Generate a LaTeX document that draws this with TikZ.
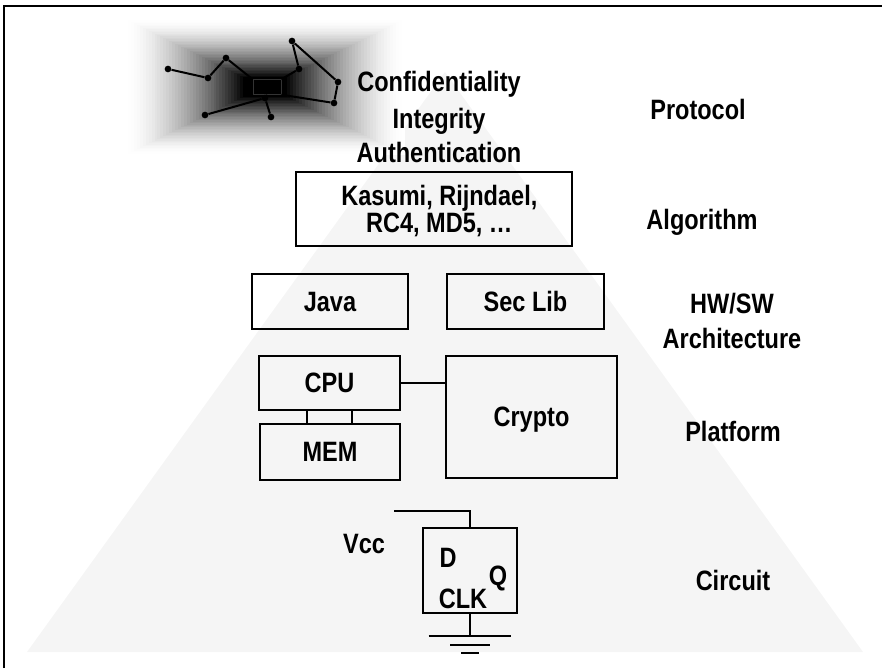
\documentclass[tikz,border=0pt]{standalone}
\usepackage{fontspec}
\setmainfont{Liberation Sans}[FakeStretch=0.84]

\tikzset{
  lbl/.style={font=\bfseries\fontsize{21}{20.25}\selectfont, inner sep=0pt, align=center},
  blockbox/.style={lbl, draw, line width=1.5pt, text depth=0pt},
  netdot/.style={circle, fill=black, inner sep=0pt, minimum size=5pt},
  netline/.style={line width=1.5pt},
  wire/.style={line width=1.5pt}
}

\begin{document}
\begin{tikzpicture}[x=0.75pt,y=-0.75pt]
  \useasboundingbox (0,0) rectangle (882,668);

  % pyramid in the back
  \fill[black!4] (445,72) -- (863,652) -- (27,652) -- cycle;

  % dark cloud behind the network
  \foreach \i in {0,...,40}{
    \pgfmathsetmacro{\t}{\i/40}
    \pgfmathsetmacro{\hw}{140-118*\t}
    \pgfmathsetmacro{\hh}{68-58*\t}
    \pgfmathsetmacro{\dk}{100*\t^1.6}
    \fill[black!\dk] (265-\hw,87-\hh) rectangle (265+\hw,87+\hh);
  }

  % network
  \node[draw=black!80, line width=0.6pt, minimum width=21pt, minimum height=11pt] (chip) at (267,87) {};
  \node[netdot] (n1) at (168,69) {};
  \node[netdot] (n2) at (208,78) {};
  \node[netdot] (n3) at (226,58) {};
  \node[netdot] (n5) at (292,41) {};
  \node[netdot] (n6) at (299,69) {};
  \node[netdot] (n7) at (338,82) {};
  \node[netdot] (n8) at (334,103) {};
  \node[netdot] (n9) at (265,98) {};
  \node[netdot] (n10) at (205,115) {};
  \node[netdot] (n11) at (271,117) {};

  \draw[netline] (n1) -- (n2) -- (n3) -- (chip.north west);
  \draw[netline] (chip.north east) -- (n6) -- (n5) -- (n7) -- (n8) -- (chip.south east);
  \draw[netline] (chip.south) -- (n9);
  \draw[netline] (n10) -- (n9) -- (n11);

  % frame
  \draw[line width=1.5pt] (4,668) -- (4,6) -- (882,6);

  % protocol
  \node[lbl, anchor=base] (conf) at (439,91) {Confidentiality};
  \node[lbl, anchor=base] (integ) at (439,128) {Integrity};
  \node[lbl, anchor=base] (auth) at (439,162) {Authentication};

  % algorithm
  \node[blockbox, minimum width=207pt, minimum height=55.5pt] (algo) at (434,209)
    {\hspace*{8pt}Kasumi, Rijndael,\\\hspace*{8pt}RC4, MD5, \dots};

  % architecture
  \node[blockbox, minimum width=117pt, minimum height=41.25pt] (java) at (330,301.5) {Java};
  \node[blockbox, minimum width=117.75pt, minimum height=41.25pt] (seclib) at (525.5,301.5) {Sec Lib};

  % platform
  \node[blockbox, minimum width=105.75pt, minimum height=40.5pt] (cpu) at (329.5,383) {CPU};
  \node[blockbox, minimum width=105pt, minimum height=42pt] (mem) at (330,452) {MEM};
  \node[blockbox, minimum width=128.25pt, minimum height=91.5pt] (crypto) at (531.5,417) {Crypto};

  \draw[wire] ([xshift=-17pt]cpu.south) -- ([xshift=-17pt]cpu.south |- mem.north);
  \draw[wire] ([xshift=17pt]cpu.south) -- ([xshift=17pt]cpu.south |- mem.north);
  \draw[wire] (cpu.east) -- (cpu.east -| crypto.west);

  % circuit
  \node[draw, line width=2.2pt, minimum width=70.5pt, minimum height=63.75pt] (ff) at (470,570.5) {};
  \node[lbl, anchor=base] (dlbl) at (448,567) {D};
  \node[lbl, anchor=base] (qlbl) at (498,585) {Q};
  \node[lbl, anchor=base] (clk) at (463,608) {CLK};
  \node[lbl, anchor=base] (vcc) at (364,553) {Vcc};

  \coordinate (vccin) at (394,511);
  \draw[wire] (vccin) -| (ff.north);

  \coordinate (gnd) at (470,636);
  \draw[wire] (ff.south) -- (gnd);
  \draw[wire] ([xshift=-31]gnd) -- ([xshift=31]gnd);
  \draw[wire] ([shift={(-20,9)}]gnd) -- ([shift={(20,9)}]gnd);
  \draw[wire] ([shift={(-9,17)}]gnd) -- ([shift={(9,17)}]gnd);

  % layer names
  \node[lbl, anchor=base] (protocol) at (698,119) {Protocol};
  \node[lbl, anchor=base] (algorithm) at (702,229) {Algorithm};
  \node[lbl, anchor=base] (hwsw) at (732,313) {HW/SW};
  \node[lbl, anchor=base] (arch) at (732,348) {Architecture};
  \node[lbl, anchor=base] (platform) at (733,441) {Platform};
  \node[lbl, anchor=base] (circuit) at (733,590) {Circuit};
\end{tikzpicture}
\end{document}
